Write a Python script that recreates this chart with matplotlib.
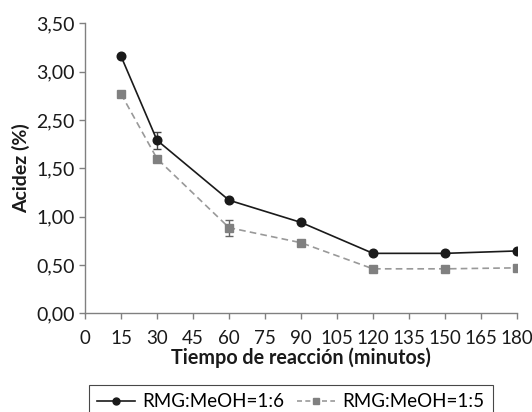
import matplotlib
matplotlib.use("Agg")
from matplotlib import pyplot as plt
from matplotlib.lines import Line2D

# data (y in axis position units, see tick labels below)
tiempo = [15, 30, 60, 90, 120, 150, 180]
acidez_16 = [2.66, 1.79, 1.17, 0.94, 0.62, 0.62, 0.645]
error_16 = [0.0, 0.086, 0.0, 0.0, 0.0, 0.0, 0.0]
acidez_15 = [2.27, 1.60, 0.886, 0.73, 0.46, 0.46, 0.47]
error_15 = [0.0, 0.0, 0.083, 0.0, 0.0, 0.0, 0.0]

x_ticks = list(range(0, 181, 15))
y_ticks = [0, 0.5, 1.0, 1.5, 2.0, 2.5, 3.0]
y_labels = ["0,00", "0,50", "1,00", "1,50", "2,50", "3,00", "3,50"]

plt.rcParams["font.family"] = ["Lato", "DejaVu Sans"]

fig = plt.figure(figsize=(5.32, 4.12), dpi=100)
ax = fig.add_axes([0.1598, 0.2396, 0.812, 0.7038])

ax.errorbar(
    tiempo, acidez_16, yerr=error_16,
    color="#1a1a1a", marker="o", markersize=6.2, linewidth=1.2,
    ecolor="#444444", elinewidth=1, capsize=3, capthick=1, zorder=3,
)
ax.errorbar(
    tiempo, acidez_15, yerr=error_15,
    color="#999999", marker="s", markersize=5.5, linewidth=1.2,
    linestyle=(0, (4, 2.5)), markerfacecolor="#808080", markeredgecolor="#808080",
    ecolor="#666666", elinewidth=1, capsize=3, capthick=1, zorder=2,
)

ax.set_xlim(0, 180)
ax.set_ylim(0, 3.0)
ax.set_xticks(x_ticks)
ax.set_yticks(y_ticks)
ax.set_yticklabels(y_labels)

for side in ["top", "right"]:
    ax.spines[side].set_visible(False)
for side in ["left", "bottom"]:
    ax.spines[side].set_color("#808080")
    ax.spines[side].set_linewidth(1)

ax.tick_params(axis="both", direction="out", length=4, width=1,
               color="#808080", labelsize=14, labelcolor="#1a1a1a")
ax.tick_params(axis="x", pad=8, labelsize=13.5)

ax.set_xlabel("Tiempo de reacción (minutos)", fontsize=14.2,
              fontweight="bold", color="#1a1a1a", labelpad=0)
ax.set_ylabel("Acidez (%)", fontsize=14, fontweight="bold",
              color="#1a1a1a", labelpad=4)

handles = [
    Line2D([], [], color="#1a1a1a", marker="o", markersize=5, linewidth=1.2),
    Line2D([], [], color="#999999", marker="s", markersize=5, linewidth=1.2,
           linestyle=(0, (3, 2)), markerfacecolor="#808080",
           markeredgecolor="#808080"),
]
leg = fig.legend(
    handles, ["RMG:MeOH=1:6", "RMG:MeOH=1:5"],
    loc="upper center",
    bbox_to_anchor=(290.8 / 532, 1 - 385 / 412),
    ncol=2, fontsize=13.5, frameon=True, fancybox=False,
    edgecolor="#1a1a1a", borderpad=0.45, borderaxespad=0, handlelength=2.0,
    handletextpad=0.4, columnspacing=0.7,
)
leg.get_frame().set_linewidth(0.8)

plt.savefig("out.png", dpi=100)
